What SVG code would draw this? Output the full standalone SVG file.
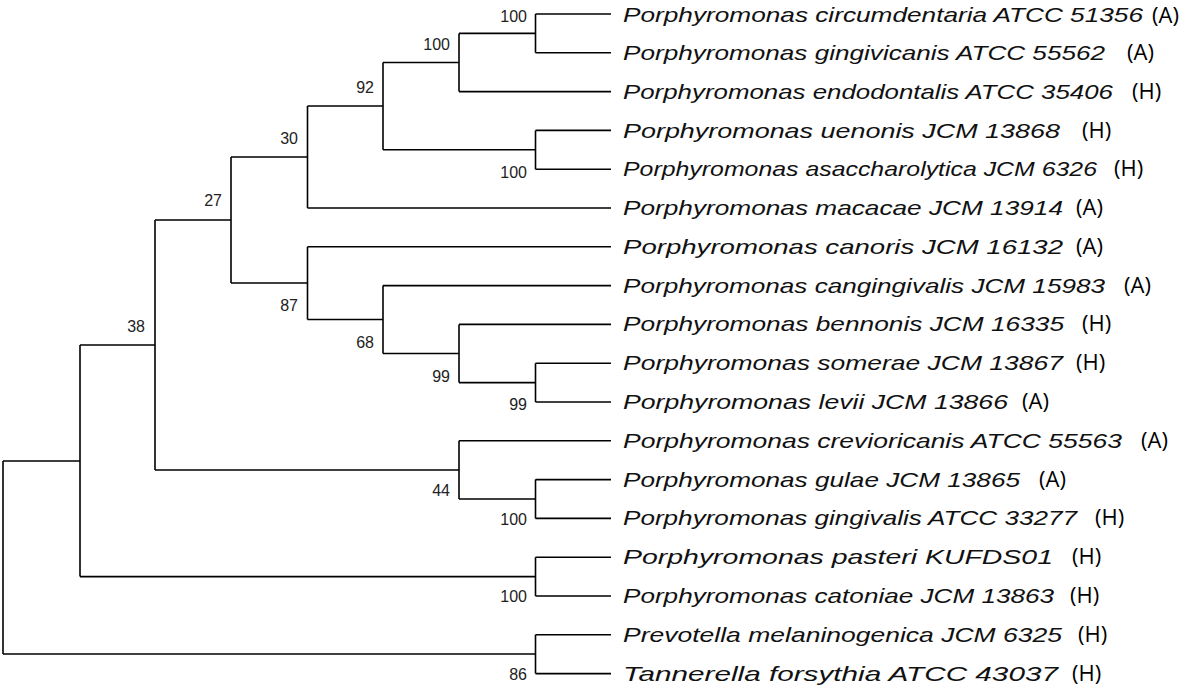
<svg xmlns="http://www.w3.org/2000/svg" width="1200" height="695" viewBox="0 0 1200 695">
<style>
.e{stroke:#000;stroke-width:1.6;fill:none}
.b{font-family:"Liberation Sans",Arial,sans-serif;font-size:16px;fill:#222;text-anchor:end}
.t{font-family:"Liberation Sans",Arial,sans-serif;font-size:21px;font-style:italic;fill:#111}
.s{font-family:"Open Sans","Liberation Sans",sans-serif;font-size:22px;fill:#000}
</style>
<rect width="1200" height="695" fill="#fff"/>
<g id="connectors" class="e">
<path d="M535.5 14H611M535.5 52.8H611M535.5 14V52.8"/>
<path d="M459 33.4H535.5M459 91.6H611M459 33.4V91.6"/>
<path d="M535.5 130.4H611M535.5 169.2H611M535.5 130.4V169.2"/>
<path d="M383 62.5H459M383 149.8H535.5M383 62.5V149.8"/>
<path d="M307.5 106H383M307.5 208H611M307.5 106V208"/>
<path d="M535.5 363.2H611M535.5 402H611M535.5 363.2V402"/>
<path d="M459 324.4H611M459 382.6H535.5M459 324.4V382.6"/>
<path d="M383 285.6H611M383 353.5H459M383 285.6V353.5"/>
<path d="M307.5 246.8H611M307.5 319.5H383M307.5 246.8V319.5"/>
<path d="M231 157H307.5M231 283H307.5M231 157V283"/>
<path d="M535.5 479.6H611M535.5 518.4H611M535.5 479.6V518.4"/>
<path d="M459 440.8H611M459 499H535.5M459 440.8V499"/>
<path d="M155 220H231M155 470H459M155 220V470"/>
<path d="M535.5 557.2H611M535.5 596H611M535.5 557.2V596"/>
<path d="M80 345H155M80 576.6H535.5M80 345V576.6"/>
<path d="M535.5 634.8H611M535.5 673.6H611M535.5 634.8V673.6"/>
<path d="M3 461H80M3 654H535.5M3 461V654"/>
</g>
<g id="bootstrap">
<text class="b" x="527" y="22">100</text>
<text class="b" x="450" y="50">100</text>
<text class="b" x="527" y="178">100</text>
<text class="b" x="374" y="93">92</text>
<text class="b" x="298" y="144">30</text>
<text class="b" x="527" y="410">99</text>
<text class="b" x="450" y="382">99</text>
<text class="b" x="374" y="348">68</text>
<text class="b" x="298" y="311">87</text>
<text class="b" x="222" y="206">27</text>
<text class="b" x="527" y="525">100</text>
<text class="b" x="450" y="496">44</text>
<text class="b" x="145" y="332">38</text>
<text class="b" x="527" y="602">100</text>
<text class="b" x="527" y="680">86</text>
</g>
<g id="leaves">
<text class="t" x="623" y="22" textLength="520" lengthAdjust="spacingAndGlyphs">Porphyromonas circumdentaria ATCC 51356</text><text class="s" x="1152" y="23">(A)</text>
<text class="t" x="623" y="60" textLength="482" lengthAdjust="spacingAndGlyphs">Porphyromonas gingivicanis ATCC 55562</text><text class="s" x="1127" y="60">(A)</text>
<text class="t" x="623" y="99" textLength="490" lengthAdjust="spacingAndGlyphs">Porphyromonas endodontalis ATCC 35406</text><text class="s" x="1132" y="99">(H)</text>
<text class="t" x="623" y="138" textLength="437" lengthAdjust="spacingAndGlyphs">Porphyromonas uenonis JCM 13868</text><text class="s" x="1082" y="138">(H)</text>
<text class="t" x="623" y="176" textLength="474" lengthAdjust="spacingAndGlyphs">Porphyromonas asaccharolytica JCM 6326</text><text class="s" x="1114" y="176">(H)</text>
<text class="t" x="623" y="215" textLength="440" lengthAdjust="spacingAndGlyphs">Porphyromonas macacae JCM 13914</text><text class="s" x="1076" y="215">(A)</text>
<text class="t" x="623" y="254" textLength="440" lengthAdjust="spacingAndGlyphs">Porphyromonas canoris JCM 16132</text><text class="s" x="1076" y="254">(A)</text>
<text class="t" x="623" y="293" textLength="482" lengthAdjust="spacingAndGlyphs">Porphyromonas cangingivalis JCM 15983</text><text class="s" x="1124" y="293">(A)</text>
<text class="t" x="623" y="331" textLength="441" lengthAdjust="spacingAndGlyphs">Porphyromonas bennonis JCM 16335</text><text class="s" x="1082" y="331">(H)</text>
<text class="t" x="623" y="370" textLength="440" lengthAdjust="spacingAndGlyphs">Porphyromonas somerae JCM 13867</text><text class="s" x="1076" y="370">(H)</text>
<text class="t" x="623" y="409" textLength="385" lengthAdjust="spacingAndGlyphs">Porphyromonas levii JCM 13866</text><text class="s" x="1022" y="409">(A)</text>
<text class="t" x="623" y="448" textLength="499" lengthAdjust="spacingAndGlyphs">Porphyromonas crevioricanis ATCC 55563</text><text class="s" x="1141" y="448">(A)</text>
<text class="t" x="623" y="487" textLength="397" lengthAdjust="spacingAndGlyphs">Porphyromonas gulae JCM 13865</text><text class="s" x="1039" y="487">(A)</text>
<text class="t" x="623" y="525" textLength="454" lengthAdjust="spacingAndGlyphs">Porphyromonas gingivalis ATCC 33277</text><text class="s" x="1095" y="525">(H)</text>
<text class="t" x="623" y="564" textLength="430" lengthAdjust="spacingAndGlyphs">Porphyromonas pasteri KUFDS01</text><text class="s" x="1072" y="564">(H)</text>
<text class="t" x="623" y="603" textLength="431" lengthAdjust="spacingAndGlyphs">Porphyromonas catoniae JCM 13863</text><text class="s" x="1070" y="603">(H)</text>
<text class="t" x="623" y="642" textLength="439" lengthAdjust="spacingAndGlyphs">Prevotella melaninogenica JCM 6325</text><text class="s" x="1078" y="642">(H)</text>
<text class="t" x="623" y="681" textLength="435" lengthAdjust="spacingAndGlyphs">Tannerella forsythia ATCC 43037</text><text class="s" x="1072" y="681">(H)</text>
</g>
</svg>
